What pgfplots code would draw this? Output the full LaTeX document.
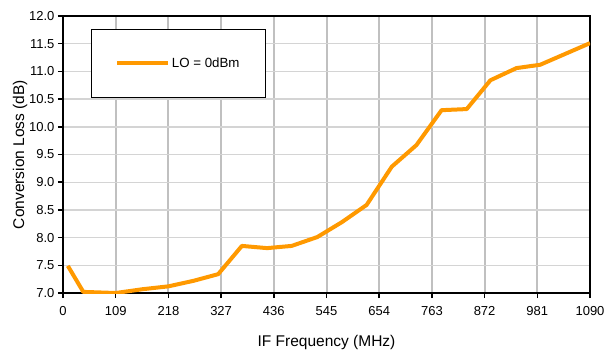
\documentclass[border=0pt]{standalone}
\usepackage{fontspec}
\setmainfont{Liberation Sans}
\usepackage{pgfplots}
\pgfplotsset{compat=1.18}
\definecolor{lineorange}{HTML}{FF9900}
\definecolor{vgrid}{HTML}{C0C0C0}
\definecolor{hgrid}{HTML}{D4D4D4}
\begin{document}
\begin{tikzpicture}
\begin{axis}[
  scale only axis,
  width=527pt, height=277pt,
  xmin=0, xmax=1090, ymin=7, ymax=12,
  xtick={0,109,218,327,436,545,654,763,872,981,1090},
  ytick={7,7.5,...,12},
  /pgf/number format/assume math mode=true,
  yticklabel style={/pgf/number format/fixed,/pgf/number format/fixed zerofill,/pgf/number format/precision=1},
  xticklabel style={/pgf/number format/1000 sep={}, yshift=-5pt},
  ticklabel style={font=\fontsize{13}{15}\selectfont},
  xmajorgrids, ymajorgrids,
  x grid style={vgrid, line width=2pt},
  y grid style={hgrid, line width=1.4pt},
  axis line style={black, line width=2.2pt},
  tick align=outside,
  xtick pos=bottom, ytick pos=left,
  major tick length=5pt,
  tick style={black, line width=1.5pt},
  xlabel={IF Frequency (MHz)},
  ylabel={Conversion Loss (dB)},
  label style={font=\fontsize{15.5}{18}\selectfont},
  xlabel style={at={(axis description cs:0.5,-0.177)}, anchor=center},
  ylabel style={at={(axis description cs:-0.0816,0.5)}, anchor=center},
  legend style={at={(axis description cs:0.0531,0.953)}, anchor=north west,
    draw=black, line width=0.8pt, inner xsep=24pt, inner ysep=27pt,
    font=\fontsize{13.3}{15}\selectfont, nodes={inner sep=1.5pt}},
  legend image code/.code={\draw[#1] (0pt,0pt) -- (51pt,0pt);},
]
\addplot[lineorange, line width=4pt, line join=round] coordinates {
(10,7.49)(42,7.02)(109,7.0)(166,7.07)(218,7.12)(270,7.22)(321,7.34)(370,7.85)(422,7.81)(473,7.85)(526,8.01)(577,8.28)(628,8.59)(680,9.28)(731,9.67)(783,10.30)(835,10.32)(884,10.84)(938,11.06)(987,11.12)(1090,11.51)
};
\addlegendentry{LO = 0dBm}
\end{axis}
\pgfresetboundingbox
\path (-63pt,-60pt) rectangle (552pt,293pt);
\end{tikzpicture}
\end{document}
